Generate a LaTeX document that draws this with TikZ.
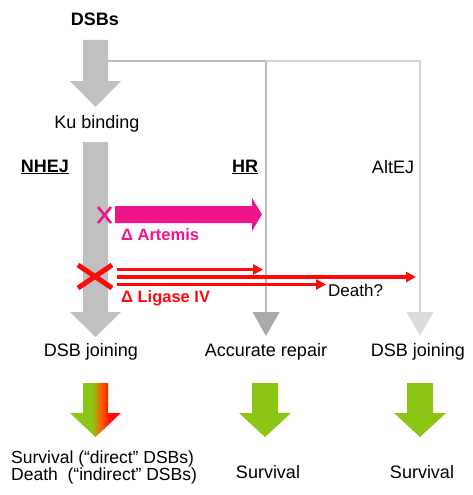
\documentclass[tikz,border=0pt]{standalone}
\usepackage{fontspec}
\setmainfont{Liberation Sans}
\usetikzlibrary{arrows.meta}
\definecolor{biggray}{RGB}{192,192,192}
\definecolor{hrline}{RGB}{190,190,190}
\definecolor{hrhead}{RGB}{170,170,170}
\definecolor{altline}{RGB}{212,212,212}
\definecolor{althead}{RGB}{220,220,220}
\definecolor{lgreen}{RGB}{140,198,20}
\definecolor{artpink}{RGB}{240,20,140}
\definecolor{ligred}{RGB}{255,10,10}
\pgfdeclarehorizontalshading{greenred}{100bp}{color(0bp)=(lgreen); color(25bp)=(lgreen); color(47bp)=(lgreen); color(56bp)=(orange!70!red); color(64bp)=(ligred); color(75bp)=(ligred); color(100bp)=(ligred)}
\tikzset{
  lbl/.style={inner sep=0pt, font=\fontsize{18}{20}\selectfont},
  blbl/.style={inner sep=0pt, font=\fontsize{18}{20}\selectfont\bfseries},
  mutlbl/.style={inner sep=0pt, font=\fontsize{16.5}{18}\selectfont\bfseries},
  redarrow/.style={ligred, line width=3.6pt, -{Triangle[length=10pt,width=10pt]}},
}
\begin{document}
\begin{tikzpicture}[x=1pt,y=-1pt]
\useasboundingbox (0,0) rectangle (472,495);

% texts
\node[blbl] (dsbs) at (95,19) {DSBs};
\node[lbl] (ku) at (97,124) {Ku binding};
\node[blbl] (nhej) at (45,167) {\underline{NHEJ}};
\node[blbl] (hr) at (245,167) {\underline{HR}};
\node[lbl] (altej) at (393,167) {AltEJ};

% gray connector lines
\draw[hrline, line width=1.5pt] (108,61) -- (266,61) -- (266,313);
\draw[altline, line width=1.5pt] (266,61) -- (420,61) -- (420,313);
\fill[hrhead] (252.5,312) -- (279.5,312) -- (266,336) -- cycle;
\fill[althead] (406.5,312) -- (433.5,312) -- (420,336) -- cycle;

% big gray arrows
\fill[biggray] (83,40) -- (108,40) -- (108,81) -- (121,81) -- (95.5,107) -- (70,81) -- (83,81) -- cycle;
\fill[biggray] (83,142) -- (108,142) -- (108,312) -- (121,312) -- (95.5,337) -- (70,312) -- (83,312) -- cycle;

% Artemis
\draw[artpink, line width=2.6pt] (98,207) -- (111,223);
\draw[artpink, line width=2.6pt] (98,223) -- (111,207);
\fill[artpink] (115,206) -- (252,206) -- (252,198) -- (262,214.5) -- (252,231) -- (252,223) -- (115,223) -- cycle;
\node[mutlbl, text=artpink, anchor=west] (art) at (121,235) {Δ Artemis};

% Ligase IV
\draw[ligred, line width=5pt] (78,265) -- (112,288);
\draw[ligred, line width=5pt] (78,288) -- (112,265);
\coordinate (l1s) at (117,269.5);
\coordinate (l1e) at (263,269.5);
\coordinate (l2s) at (117,277);
\coordinate (l2e) at (416,277);
\coordinate (l3s) at (117,284.5);
\coordinate (l3e) at (326,284.5);
\draw[redarrow] (l1s) -- (l1e);
\draw[redarrow] (l2s) -- (l2e);
\draw[redarrow] (l3s) -- (l3e);
\node[lbl, font=\fontsize{17}{19}\selectfont, anchor=west] (death) at (328,290) {Death?};
\node[mutlbl, text=ligred, anchor=west] (lig) at (121,298) {Δ Ligase IV};

% outcomes
\node[lbl] (j1) at (91,352) {DSB joining};
\node[lbl] (acc) at (266,352) {Accurate repair};
\node[lbl] (j2) at (418,352) {DSB joining};

\shade[shading=greenred] (83,383) -- (108,383) -- (108,413) -- (121,413) -- (95.5,437) -- (70,413) -- (83,413) -- cycle;
\fill[lgreen] (252,383) -- (278,383) -- (278,413) -- (291,413) -- (265,437) -- (239,413) -- (252,413) -- cycle;
\fill[lgreen] (407,383) -- (433,383) -- (433,413) -- (446,413) -- (420,437) -- (394,413) -- (407,413) -- cycle;

\node[lbl, font=\fontsize{17.5}{17.5}\selectfont, anchor=west, align=left] (out1) at (11,467.5) {Survival (“direct” DSBs)\\Death\ \ (“indirect” DSBs)};
\node[lbl] (out2) at (268,472) {Survival};
\node[lbl] (out3) at (422,472) {Survival};
\end{tikzpicture}
\end{document}
